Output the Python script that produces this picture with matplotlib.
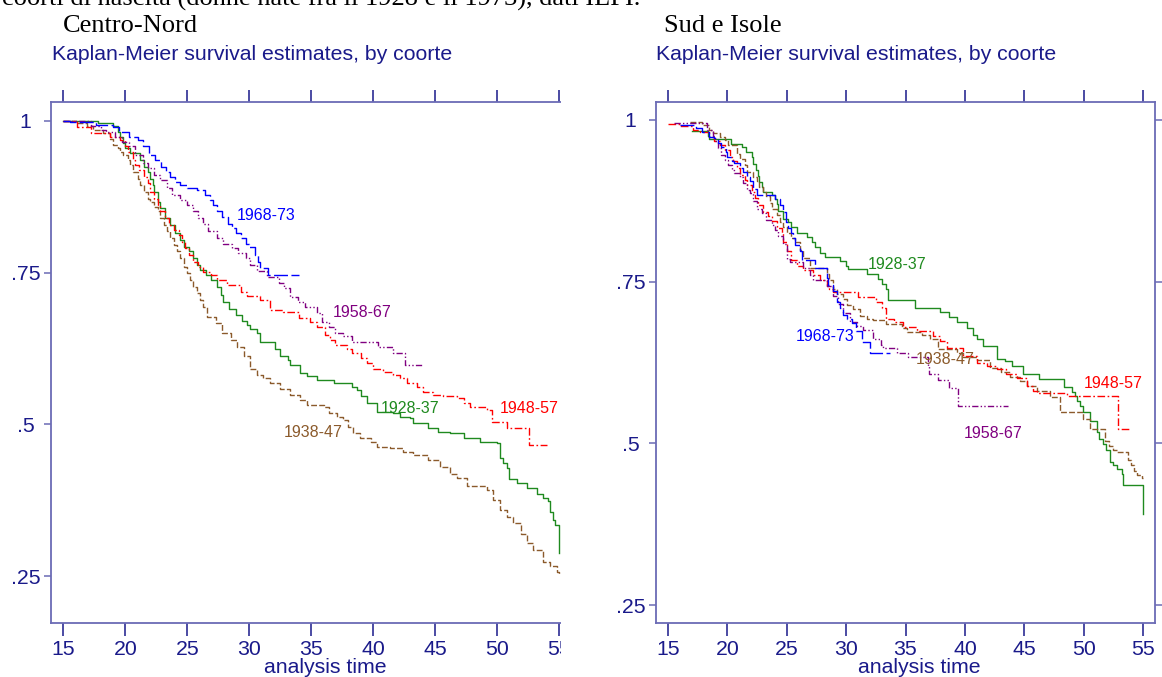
import matplotlib
matplotlib.use("Agg")
import matplotlib.pyplot as plt
from matplotlib.patches import Rectangle

plt.rcParams['font.family'] = ['Liberation Sans', 'DejaVu Sans']

# ---------------- data ----------------
cohorts = ['1928-37', '1938-47', '1948-57', '1958-67', '1968-73']
xticks = [15, 20, 25, 30, 35, 40, 45, 50, 55]
yticks = [0.25, 0.5, 0.75, 1.0]
ytick_labels = ['.25', '.5', '.75', '1']

# Centro-Nord
cn_t_1928 = [15.0, 17.8, 19.0, 19.4, 19.6, 19.8, 20.0, 20.4, 21.2, 21.5, 21.8, 22.0, 22.2, 22.3, 22.6, 22.8, 23.2, 23.6, 24.0, 24.4, 24.7, 25.1, 25.5, 25.8, 26.0, 26.5, 26.9, 27.4, 27.7, 27.9, 28.4, 28.9, 29.4, 29.8, 30.1, 30.6, 30.9, 32.1, 32.5, 33.1, 33.3, 34.1, 34.7, 35.5, 36.8, 38.3, 38.7, 39.0, 39.5, 40.3, 41.6, 42.2, 43.0, 43.2, 44.4, 45.2, 46.2, 47.3, 48.6, 50.0, 50.2, 50.5, 50.8, 51.0, 51.6, 52.4, 53.2, 53.7, 54.1, 54.3, 54.5, 54.7, 55.0]
cn_s_1928 = [1.0, .996, .991, .982, .974, .963, .955, .947, .936, .925, .916, .905, .894, .883, .867, .856, .840, .829, .815, .804, .793, .785, .774, .763, .754, .746, .738, .727, .713, .702, .690, .680, .670, .663, .658, .650, .636, .625, .612, .606, .598, .584, .579, .573, .568, .562, .557, .546, .535, .521, .518, .513, .510, .502, .494, .488, .485, .477, .471, .469, .445, .436, .428, .410, .403, .395, .386, .378, .373, .355, .342, .334, .288]

cn_t_1938 = [15.0, 16.0, 16.9, 17.4, 18.2, 18.8, 19.0, 19.4, 19.6, 19.8, 20.2, 20.4, 20.6, 21.0, 21.2, 21.5, 21.8, 22.0, 22.3, 22.6, 22.8, 23.1, 23.4, 23.6, 23.9, 24.2, 24.4, 24.7, 25.0, 25.2, 25.5, 25.8, 26.0, 26.3, 26.6, 27.3, 27.8, 28.5, 29.0, 29.6, 30.1, 30.6, 31.1, 31.7, 32.5, 33.3, 34.1, 34.7, 36.0, 36.4, 37.1, 37.6, 38.0, 38.4, 38.9, 39.8, 40.3, 41.4, 42.4, 43.2, 44.4, 45.4, 46.2, 46.8, 47.6, 49.2, 49.7, 50.2, 50.8, 51.3, 51.9, 52.4, 52.9, 53.7, 54.3, 54.8, 55.0]
cn_s_1938 = [1.0, .996, .991, .985, .980, .971, .960, .955, .949, .944, .936, .927, .916, .905, .894, .883, .872, .867, .859, .851, .840, .829, .818, .807, .796, .785, .774, .760, .749, .738, .727, .716, .705, .694, .677, .667, .650, .639, .628, .612, .592, .581, .576, .568, .559, .548, .540, .532, .529, .518, .513, .507, .496, .485, .477, .471, .463, .461, .455, .450, .441, .430, .419, .411, .398, .392, .375, .359, .348, .337, .320, .304, .293, .274, .266, .256, .254]

cn_t_1948 = [15.0, 16.1, 17.2, 18.8, 19.6, 20.0, 20.2, 20.6, 20.8, 21.1, 21.5, 21.8, 22.0, 22.3, 22.6, 22.8, 23.2, 23.5, 23.9, 24.3, 24.6, 24.8, 25.1, 25.5, 25.9, 26.3, 26.9, 27.4, 28.2, 29.3, 29.8, 30.9, 31.7, 32.7, 34.0, 34.9, 35.5, 36.1, 36.5, 36.9, 37.9, 38.3, 39.0, 39.5, 40.0, 40.8, 41.6, 42.2, 42.7, 43.5, 44.0, 44.8, 45.6, 46.8, 47.3, 47.8, 49.2, 49.6, 50.8, 52.6, 54.0]
cn_s_1948 = [1.0, .990, .980, .974, .969, .958, .949, .936, .927, .919, .908, .897, .883, .872, .862, .851, .840, .829, .820, .812, .801, .790, .779, .768, .760, .751, .746, .738, .730, .718, .712, .705, .689, .686, .675, .669, .661, .647, .639, .631, .625, .617, .609, .601, .592, .587, .581, .576, .568, .562, .554, .548, .546, .543, .535, .529, .524, .504, .494, .466, .466]

cn_t_1958 = [15.0, 17.2, 18.0, 18.4, 19.2, 19.7, 20.3, 20.8, 21.4, 21.8, 22.3, 22.8, 23.4, 23.8, 24.4, 25.0, 25.5, 25.9, 26.3, 26.7, 27.4, 27.9, 28.6, 29.1, 29.7, 30.1, 30.6, 31.4, 32.4, 32.8, 33.3, 33.9, 34.5, 35.5, 35.9, 36.4, 36.9, 37.6, 38.3, 40.4, 41.6, 42.6, 44.0]
cn_s_1958 = [1.0, .991, .985, .982, .974, .966, .958, .944, .930, .922, .911, .903, .889, .878, .870, .862, .851, .840, .831, .818, .807, .798, .790, .782, .774, .763, .752, .743, .733, .725, .710, .702, .694, .683, .669, .661, .650, .645, .636, .627, .617, .598, .598]

cn_t_1968 = [15.0, 15.5, 17.6, 19.0, 19.5, 20.3, 21.0, 21.4, 21.9, 22.4, 22.9, 23.3, 23.6, 24.0, 24.4, 25.0, 25.8, 26.4, 26.8, 27.1, 27.4, 27.8, 28.3, 28.6, 28.9, 29.3, 29.7, 30.0, 30.5, 30.7, 30.9, 31.5, 34.0]
cn_s_1968 = [1.0, .998, .993, .990, .982, .974, .969, .958, .944, .936, .925, .916, .908, .900, .895, .889, .886, .878, .870, .862, .851, .842, .831, .823, .815, .807, .798, .793, .779, .768, .757, .746, .746]

# Sud e Isole
si_t_1928 = [17.0, 18.4, 18.5, 20.3, 21.2, 21.6, 22.1, 22.2, 22.4, 22.6, 22.7, 22.9, 23.0, 23.8, 24.0, 24.2, 24.3, 24.7, 25.1, 25.4, 25.9, 26.7, 27.1, 27.4, 27.8, 28.2, 29.5, 30.0, 30.2, 31.8, 32.7, 33.0, 33.4, 33.5, 35.8, 37.9, 38.7, 39.3, 40.2, 40.7, 41.0, 41.5, 42.7, 43.4, 44.0, 44.9, 46.2, 48.3, 49.0, 49.3, 49.4, 49.7, 49.9, 50.5, 51.1, 51.3, 51.6, 51.9, 52.2, 52.5, 52.8, 53.2, 53.3, 55.0]
si_s_1928 = [.983, .976, .971, .963, .958, .950, .942, .932, .922, .914, .904, .896, .888, .884, .878, .870, .860, .847, .842, .834, .826, .819, .811, .803, .795, .788, .782, .775, .769, .762, .754, .746, .738, .722, .710, .703, .695, .687, .678, .667, .661, .651, .630, .628, .619, .607, .600, .587, .579, .574, .566, .558, .548, .535, .517, .507, .499, .489, .471, .466, .460, .453, .436, .391]

si_t_1938 = [16.9, 17.9, 18.5, 18.8, 19.4, 19.8, 20.1, 20.8, 21.1, 21.5, 21.7, 22.2, 22.5, 22.7, 23.0, 23.3, 23.6, 23.8, 24.2, 24.4, 24.7, 25.0, 25.4, 25.7, 26.1, 26.4, 27.0, 28.4, 28.6, 28.9, 29.2, 29.7, 30.1, 30.6, 31.2, 31.8, 32.3, 33.4, 34.7, 35.1, 36.4, 37.1, 37.7, 39.3, 39.8, 41.0, 42.1, 43.0, 43.8, 44.6, 45.2, 46.1, 47.2, 48.0, 49.9, 50.5, 51.8, 52.1, 52.5, 52.8, 53.7, 54.0, 54.2, 54.5, 54.9, 55.0]
si_s_1938 = [.997, .992, .985, .980, .974, .969, .961, .948, .940, .930, .920, .912, .905, .897, .889, .882, .871, .863, .853, .843, .835, .825, .817, .811, .799, .786, .771, .762, .752, .739, .731, .723, .714, .708, .697, .692, .690, .685, .679, .672, .667, .661, .646, .640, .634, .629, .617, .610, .602, .596, .589, .581, .571, .548, .538, .523, .504, .496, .490, .487, .475, .467, .457, .451, .447, .447]

si_t_1948 = [15.0, 16.0, 17.1, 17.7, 18.5, 18.9, 19.4, 19.8, 20.2, 20.5, 20.8, 21.1, 21.5, 21.7, 22.1, 22.3, 22.6, 23.0, 23.4, 23.8, 24.2, 24.6, 24.7, 25.0, 25.4, 25.9, 26.4, 27.2, 27.8, 28.4, 28.6, 28.9, 31.0, 32.5, 33.0, 33.4, 34.0, 34.8, 36.0, 37.3, 37.9, 38.5, 39.8, 41.0, 41.9, 42.7, 43.5, 44.4, 45.2, 45.7, 46.1, 48.6, 52.9, 53.9]
si_s_1948 = [.994, .990, .985, .982, .974, .968, .961, .954, .943, .936, .926, .915, .907, .900, .889, .879, .869, .858, .852, .844, .833, .825, .812, .797, .784, .775, .768, .760, .753, .744, .739, .734, .726, .718, .710, .692, .687, .680, .674, .666, .659, .647, .635, .624, .620, .615, .607, .601, .588, .581, .578, .574, .523, .523]

si_t_1958 = [15.5, 18.3, 18.8, 19.0, 19.2, 19.5, 19.8, 20.1, 20.4, 20.6, 21.1, 21.3, 21.7, 21.9, 22.2, 22.5, 22.9, 23.3, 23.8, 24.0, 24.3, 24.7, 25.0, 25.3, 26.4, 27.0, 27.2, 28.4, 28.9, 29.3, 29.7, 30.3, 30.9, 31.4, 32.3, 32.9, 33.1, 34.3, 35.2, 36.9, 37.0, 37.7, 38.7, 39.4, 43.6]
si_s_1958 = [.995, .985, .975, .968, .956, .946, .938, .930, .923, .918, .912, .902, .892, .887, .874, .863, .856, .845, .838, .830, .820, .809, .785, .781, .771, .760, .753, .744, .728, .715, .701, .688, .681, .675, .662, .652, .647, .640, .634, .620, .608, .598, .585, .558, .558]

si_t_1968 = [16.0, 17.4, 17.9, 18.5, 18.9, 19.2, 19.5, 19.9, 20.0, 20.4, 20.6, 21.1, 21.3, 21.7, 21.9, 22.2, 22.5, 24.0, 24.4, 24.7, 24.9, 25.1, 25.4, 25.5, 25.7, 26.1, 26.3, 27.4, 28.4, 28.5, 28.9, 29.2, 29.5, 29.7, 30.1, 30.5, 30.8, 31.3, 32.0, 33.7]
si_s_1968 = [.992, .987, .982, .974, .972, .964, .959, .950, .943, .936, .933, .925, .920, .912, .905, .894, .884, .878, .869, .858, .843, .833, .825, .817, .807, .797, .784, .771, .756, .745, .735, .719, .709, .699, .693, .686, .673, .657, .639, .639]

# curve-label anchor positions (data coordinates)
cn_label_t = [43.0, 35.2, 52.6, 39.1, 31.4]
cn_label_s = [0.527, 0.487, 0.527, 0.685, 0.845]
si_label_t = [34.3, 38.3, 52.5, 42.4, 28.2]
si_label_s = [0.777, 0.629, 0.592, 0.516, 0.665]

# ---------------- style ----------------
colors = ['#1f8a1f', '#8b5a2b', '#ff0000', '#800080', '#0000ff']
dashes = ['-', (0, (4.2, 1.6)), (0, (5.5, 1.8, 1.2, 1.8)),
          (0, (4.5, 1.6, 1.0, 1.6, 1.0, 1.6)), (0, (10, 2.5))]
NAVY = '#1a1a8a'
SPINE = '#6b6bb5'

W, H, DPI = 1162, 677, 100
fig = plt.figure(figsize=(W / DPI, H / DPI), dpi=DPI)
fig.patch.set_facecolor('white')


def px_rect(left, top, right, bottom):
    return [left / W, 1 - bottom / H, (right - left) / W, (bottom - top) / H]


def style(ax, ylim, xlab_x):
    ax.set_xlim(14, 56)
    ax.set_ylim(*ylim)
    for sp in ax.spines.values():
        sp.set_color(SPINE)
        sp.set_linewidth(1.3)
    ax.set_xticks(xticks)
    ax.set_xticklabels([str(v) for v in xticks])
    ax.set_yticks(yticks)
    ax.set_yticklabels(ytick_labels)
    ax.tick_params(axis='x', direction='out', length=9, width=1.1, color=NAVY,
                   labelcolor=NAVY, labelsize=15.3, pad=3, top=True, labeltop=False)
    ax.tick_params(axis='y', direction='out', length=5.4, width=1.1, color=SPINE,
                   labelcolor=NAVY, labelsize=15.3, pad=13, right=True, labelright=False)
    for lab in ax.get_yticklabels():
        lab.set_horizontalalignment('center')
    ax.set_xlabel('analysis time', fontsize=15.3, color=NAVY)
    ax.xaxis.label.set_verticalalignment('center')
    ax.xaxis.set_label_coords(xlab_x, -0.0845)


def draw(ax, series, lab_t, lab_s):
    for (t, s), c, d in zip(series, colors, dashes):
        ax.plot(t, s, drawstyle='steps-post', color=c, lw=1.0, linestyle=d)
    for name, c, lt, ls in zip(cohorts, colors, lab_t, lab_s):
        ax.text(lt, ls, name, color=c, fontsize=11.5, ha='center', va='center', zorder=5)


ax1 = fig.add_axes(px_rect(51, 102, 571.4, 623))
draw(ax1, [(cn_t_1928, cn_s_1928), (cn_t_1938, cn_s_1938), (cn_t_1948, cn_s_1948),
           (cn_t_1958, cn_s_1958), (cn_t_1968, cn_s_1968)], cn_label_t, cn_label_s)
style(ax1, (0.1727, 1.0313), 0.5265)

ax2 = fig.add_axes(px_rect(656, 102, 1155, 623))
draw(ax2, [(si_t_1928, si_s_1928), (si_t_1938, si_s_1938), (si_t_1948, si_s_1948),
           (si_t_1958, si_s_1958), (si_t_1968, si_s_1968)], si_label_t, si_label_s)
style(ax2, (0.2223, 1.0278), 0.528)

# the left panel is cut off at its right edge in the reference
fig.add_artist(Rectangle((561 / W, 0), (604 - 561) / W, 1, transform=fig.transFigure,
                         facecolor='white', edgecolor='none', zorder=5))

serif = ['Liberation Serif', 'DejaVu Serif']
fig.text(2 / W, 1 - 6 / H, 'coorti di nascita (donne nate fra il 1928 e il 1973), dati ILFI.',
         family=serif, fontsize=19, va='baseline', ha='left', zorder=10)
fig.text(63 / W, 1 - 32.5 / H, 'Centro-Nord', family=serif, fontsize=19,
         va='baseline', ha='left', zorder=10)
fig.text(664 / W, 1 - 32.5 / H, 'Sud e Isole', family=serif, fontsize=19,
         va='baseline', ha='left', zorder=10)
fig.text(52 / W, 1 - 60 / H, 'Kaplan-Meier survival estimates, by coorte', fontsize=15.3,
         color=NAVY, va='baseline', ha='left', zorder=10)
fig.text(656 / W, 1 - 60 / H, 'Kaplan-Meier survival estimates, by coorte', fontsize=15.3,
         color=NAVY, va='baseline', ha='left', zorder=10)

fig.savefig('out.png', dpi=DPI, facecolor='white')
